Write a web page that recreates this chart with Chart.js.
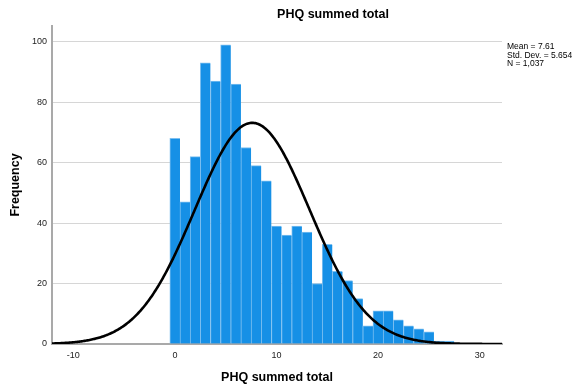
<!DOCTYPE html>
<html>
<head>
<meta charset="utf-8">
<script src="https://cdn.jsdelivr.net/npm/chart.js@4/dist/chart.umd.min.js"></script>
<style>
  html, body { margin: 0; padding: 0; background: #fff; }
  #wrap { width: 574px; height: 390px; position: relative; }
</style>
</head>
<body>
<div id="wrap"><canvas id="c" width="574" height="390"></canvas></div>
<script>
// PHQ summed total: frequency of each score
const scores = [0, 1, 2, 3, 4, 5, 6, 7, 8, 9, 10, 11, 12, 13, 14, 15, 16, 17, 18, 19, 20, 21, 22, 23, 24, 25, 26, 27];
const counts = [68, 47, 62, 93, 87, 99, 86, 65, 59, 54, 39, 36, 39, 37, 20, 33, 24, 21, 15, 6, 11, 11, 8, 6, 5, 4, 1, 1];

// Summary statistics shown beside the plot
const mean = 7.61;
const stdDev = 5.654;
const n = 1037;
const binWidth = 1;
const statLines = ['Mean = 7.61', 'Std. Dev. = 5.654', 'N = 1,037'];

// Axis ticks and ranges
const xTicks = [-10, 0, 10, 20, 30];
const yTicks = [0, 20, 40, 60, 80, 100];
const xRange = [-12.1, 32.2];
const yRange = [0, 105.2];

const titleText = 'PHQ summed total';
const xTitle = 'PHQ summed total';
const yTitle = 'Frequency';

// Fitted normal curve, scaled to counts per bin
const curve = [];
for (let i = 0; i <= 443; i++) {
  const x = xRange[0] + i * 0.1;
  const z = (x - mean) / stdDev;
  const y = n * binWidth / (stdDev * Math.sqrt(2 * Math.PI)) * Math.exp(-0.5 * z * z);
  curve.push({ x: x, y: y });
}

const FONT = '"Liberation Sans", Arial, sans-serif';

const textPlugin = {
  id: 'texts',
  afterDraw(chart) {
    const ctx = chart.ctx;
    const a = chart.chartArea;
    ctx.save();
    ctx.fillStyle = '#000';
    ctx.textBaseline = 'middle';
    ctx.textAlign = 'center';
    ctx.font = 'bold 12.5px ' + FONT;
    ctx.fillText(titleText, 333, 15);
    ctx.fillText(xTitle, (a.left + a.right) / 2, 378);
    ctx.save();
    ctx.translate(16, (a.top + a.bottom) / 2);
    ctx.rotate(-Math.PI / 2);
    ctx.fillText(yTitle, 0, 0);
    ctx.restore();
    ctx.textAlign = 'left';
    ctx.font = '8.5px ' + FONT;
    statLines.forEach((s, i) => ctx.fillText(s, 507, 47 + i * 8.5));
    ctx.restore();
  }
};

new Chart(document.getElementById('c'), {
  data: {
    datasets: [
      {
        type: 'line',
        data: curve,
        borderColor: '#000',
        borderWidth: 2.6,
        pointRadius: 0,
        pointHoverRadius: 0,
        pointBorderWidth: 0,
        tension: 0,
        fill: false,
        order: 0
      },
      {
        type: 'bar',
        data: scores.map((s, i) => ({ x: s, y: counts[i] })),
        backgroundColor: '#1690E6',
        borderColor: '#7cbff0',
        borderWidth: { left: 1, top: 1, right: 0, bottom: 0 },
        borderSkipped: false,
        barPercentage: 1,
        categoryPercentage: 1,
        order: 1
      }
    ]
  },
  options: {
    responsive: false,
    animation: false,
    layout: { padding: { left: 0, top: 26, right: 72, bottom: 0 } },
    plugins: { legend: { display: false }, tooltip: { enabled: false } },
    scales: {
      x: {
        type: 'linear',
        offset: false,
        min: xRange[0],
        max: xRange[1],
        afterBuildTicks(scale) { scale.ticks = xTicks.map(v => ({ value: v })); },
        afterFit(scale) { scale.height = 46; },
        grid: { display: false, drawTicks: false, offset: false },
        border: { display: true, color: '#a9a9a9', width: 2 },
        ticks: { padding: 6, color: '#222', font: { family: FONT, size: 9 } }
      },
      y: {
        type: 'linear',
        min: yRange[0],
        max: yRange[1],
        afterBuildTicks(scale) { scale.ticks = yTicks.map(v => ({ value: v })); },
        afterFit(scale) { scale.width = 52; },
        grid: { color: '#d6d6d6', lineWidth: 1, drawTicks: false },
        border: { display: true, color: '#a9a9a9', width: 2 },
        ticks: { padding: 5, color: '#222', font: { family: FONT, size: 9 } }
      }
    }
  },
  plugins: [textPlugin]
});
</script>
</body>
</html>
